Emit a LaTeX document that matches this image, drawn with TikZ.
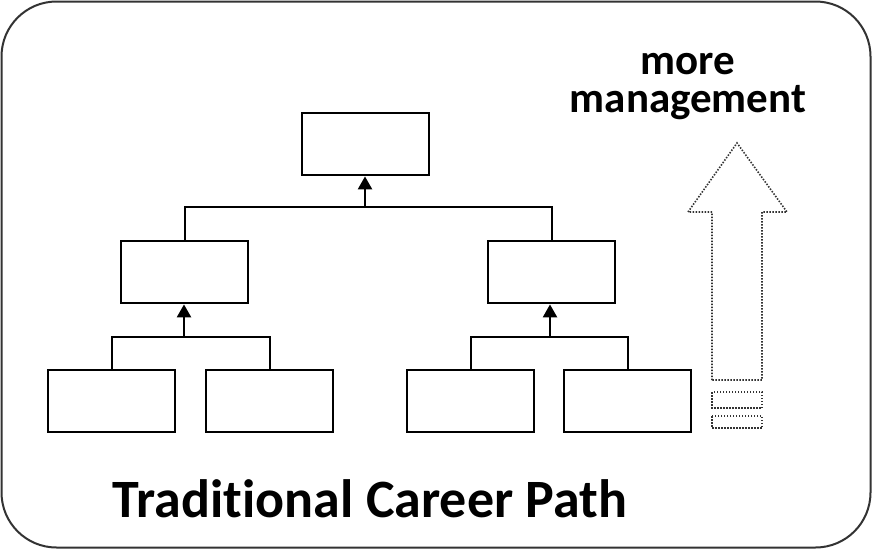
\documentclass[tikz,border=0pt]{standalone}
\usepackage{fontspec}
\setmainfont{Carlito}[Ligatures=CommonOff]
\usetikzlibrary{arrows.meta}
\begin{document}
\begin{tikzpicture}[x=1pt,y=-1pt,
  unit/.style={draw=black,line width=2.4pt,fill=white,minimum width=127pt,minimum height=62pt,inner sep=0pt,anchor=north west},
  link/.style={draw=black,line width=2.4pt},
  up/.style={link,-{Triangle[length=13pt,width=14pt]}},
  dots/.style={draw=black!80,line width=1.6pt,dash pattern=on 1.5pt off 1.5pt}]
\useasboundingbox (0,0) rectangle (872,549);
% frame
\draw[line width=2pt,draw=black!80,rounded corners=55pt] (1.5,1.5) rectangle (870.5,547.5);
% boxes of the hierarchy
\node[unit] (top) at (301,112) {};
\node[unit] (ml) at (120,240) {};
\node[unit] (mr) at (487,240) {};
\node[unit] (b1) at (47,369) {};
\node[unit] (b2) at (205,369) {};
\node[unit] (b3) at (406,369) {};
\node[unit] (b4) at (563,369) {};
% junctions
\coordinate (jt) at (365,207);
\coordinate (jl) at (184,337);
\coordinate (jr) at (550,337);
% upper tier
\draw[link] (ml.north) |- (jt) -| (mr.north);
\draw[up] (jt) -- (jt |- top.south);
% lower tiers
\draw[link] (b1.north) |- (jl) -| (b2.north);
\draw[up] (jl) -- (jl |- ml.south);
\draw[link] (b3.north) |- (jr) -| (b4.north);
\draw[up] (jr) -- (jr |- mr.south);
% dotted arrow
\draw[dots] (712,380) -- (712,212) -- (688,212) -- (737,143) -- (787,212) -- (762,212) -- (762,380) -- cycle;
\draw[dots] (712,392) rectangle (762,408);
\draw[dots] (712,416) rectangle (762,428);
% labels
\node[font=\bfseries\fontsize{43}{38}\selectfont,align=center,anchor=base,inner sep=0pt] (more) at (688,112) {more\\management};
\node[font=\bfseries\fontsize{54}{60}\selectfont,anchor=base,inner sep=0pt] (title) at (370,517) {Traditional Career Path};
\end{tikzpicture}
\end{document}
